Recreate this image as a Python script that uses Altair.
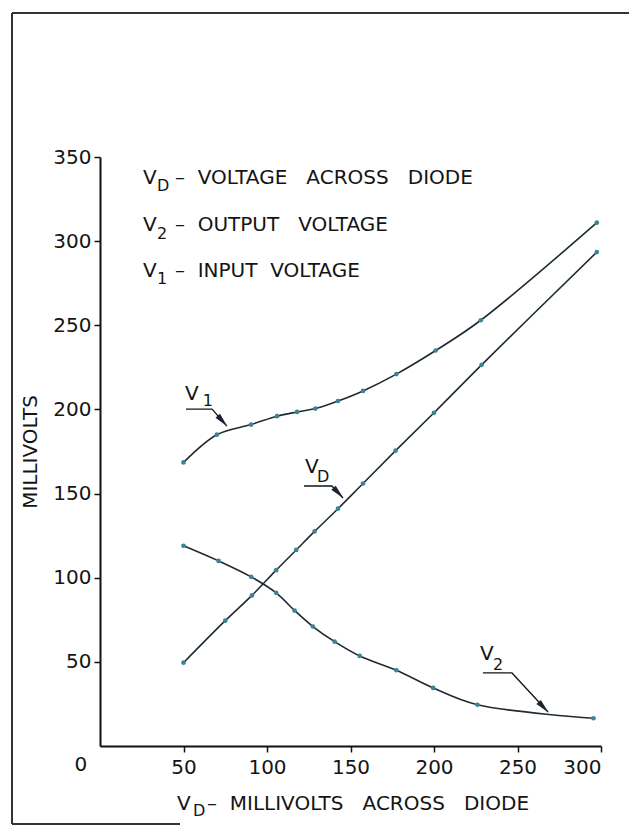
import altair as alt
import pandas as pd

# ---------------- data ----------------
vd_x = [50, 75, 91, 105.5, 117.5, 128.5, 142.5, 157.5, 177, 200, 228.5, 297.5]
vd_y = [49.5, 74.5, 89.5, 104.5, 116.5, 127.5, 141, 156, 175.5, 198, 226.5, 293.5]

v2_x = [50, 71, 90.5, 105.5, 116.5, 127.5, 140.5, 155.5, 177.5, 199.5, 226, 295.5]
v2_y = [119, 110, 100.5, 91, 80.5, 71, 62, 53.5, 45, 34.5, 24.5, 16.5]

v1_x = [50, 70, 90.5, 106, 118, 129, 142.5, 157.5, 177.5, 201, 228, 297.5]
v1_y = [168.5, 185, 191, 196, 198.5, 200.5, 205, 211, 221, 235, 253, 311]

x_ticks = [50, 100, 150, 200, 250, 300]
y_ticks = [50, 100, 150, 200, 250, 300, 350]

NB = "\u00a0"
legend_lines = [
    ("D", "\u2013" + NB * 2 + "VOLTAGE" + NB * 3 + "ACROSS" + NB * 3 + "DIODE"),
    ("2", "\u2013" + NB * 2 + "OUTPUT" + NB * 3 + "VOLTAGE"),
    ("1", "\u2013" + NB * 2 + "INPUT" + NB * 2 + "VOLTAGE"),
]
legend_base_y = [333.8, 306.3, 278.9]
legend_sub_y = [329.6, 301.0, 274.7]

x_title_sub = "D"
x_title_rest = "\u2013" + NB * 2 + "MILLIVOLTS" + NB * 3 + "ACROSS" + NB * 3 + "DIODE"

# curve labels: (subscript, V position, subscript position)
curve_labels = ["1", "D", "2"]
label_v_x = [50.9, 122.8, 227.5]
label_v_y = [205.6, 162.2, 51.1]
label_s_x = [61.5, 129.9, 235.3]
label_s_y = [202.0, 156.9, 45.2]
# leader lines: underline start, underline end, arrow tip
leader_x = [[51.5, 67.1, 76.0], [122.2, 138.9, 145.5], [229.3, 246.7, 268.3]]
leader_y = [[200.2, 200.2, 190.1], [154.5, 154.5, 147.4], [43.4, 43.4, 20.2]]
head_x = [73.4, 142.8, 265.6]
head_y = [193.0, 150.3, 23.0]
head_angle = [138, 137, 137]

# ---------------- tables ----------------
rows = []
for name, xs_, ys_ in [("VD", vd_x, vd_y), ("V2", v2_x, v2_y), ("V1", v1_x, v1_y)]:
    for a, b in zip(xs_, ys_):
        rows.append({"series": name, "x": a, "y": b})
df = pd.DataFrame(rows)

lead_rows = []
for i, (lx, ly) in enumerate(zip(leader_x, leader_y)):
    for j, (a, b) in enumerate(zip(lx, ly)):
        lead_rows.append({"lab": i, "o": j, "x": a, "y": b})
lead_df = pd.DataFrame(lead_rows)

head_df = pd.DataFrame({"x": head_x, "y": head_y, "a": head_angle})

text_rows = []
for i, (sub, rest) in enumerate(legend_lines):
    text_rows.append({"x": 25.7, "y": legend_base_y[i], "t": "V", "fs": 20})
    text_rows.append({"x": 34.1, "y": legend_sub_y[i], "t": sub, "fs": 16})
    text_rows.append({"x": 44.9, "y": legend_base_y[i], "t": rest, "fs": 20})
for i, sub in enumerate(curve_labels):
    text_rows.append({"x": label_v_x[i], "y": label_v_y[i], "t": "V", "fs": 20})
    text_rows.append({"x": label_s_x[i], "y": label_s_y[i], "t": sub, "fs": 16})
text_rows.append({"x": 46.1, "y": -38.0, "t": "V", "fs": 20})
text_rows.append({"x": 55.7, "y": -41.6, "t": x_title_sub, "fs": 16})
text_rows.append({"x": 64.1, "y": -38.0, "t": x_title_rest, "fs": 20})
text_df = pd.DataFrame(text_rows)

origin_df = pd.DataFrame({"x": [-11.4], "y": [-11.3], "t": ["0"]})

# ---------------- chart ----------------
W, H = 501, 589
LINE = "#1f2b31"
DOT = "#3c8494"
INK = "#141414"
FONT = "DejaVu Sans"

xs = alt.Scale(domain=[0, 300], nice=False, zero=True)
ys = alt.Scale(domain=[0, 350], nice=False, zero=True)

X = alt.X("x:Q", scale=xs, axis=alt.Axis(values=x_ticks, title=None, format="d"))
Y = alt.Y("y:Q", scale=ys, axis=alt.Axis(values=y_ticks, title="MILLIVOLTS", format="d"))

lines = alt.Chart(df).mark_line(interpolate="catmull-rom", color=LINE, strokeWidth=1.6).encode(
    x=X, y=Y, detail="series:N"
)
points = alt.Chart(df).mark_circle(size=22, color=DOT, opacity=1).encode(x="x:Q", y="y:Q")

leaders = alt.Chart(lead_df).mark_line(color=INK, strokeWidth=1.3).encode(
    x="x:Q", y="y:Q", detail="lab:N", order="o:Q"
)
heads = alt.Chart(head_df).mark_point(
    shape="M0,-1L0.42,1L-0.42,1Z", filled=True, size=210, color="#1b2330", opacity=1
).encode(x="x:Q", y="y:Q", angle=alt.Angle("a:Q", scale=None))

texts = alt.Chart(text_df).mark_text(
    align="left", baseline="alphabetic", font=FONT, color=INK
).encode(x="x:Q", y="y:Q", text="t:N", size=alt.Size("fs:Q", scale=None))

origin = alt.Chart(origin_df).mark_text(
    align="center", baseline="middle", font=FONT, fontSize=20, color=INK
).encode(x="x:Q", y="y:Q", text="t:N")

one = pd.DataFrame({"k": [0]})
frame_left = alt.Chart(one).mark_rule(color="#333", strokeWidth=2).encode(
    x=alt.value(-88), y=alt.value(-144), y2=alt.value(667)
)
frame_top = alt.Chart(one).mark_rule(color="#333", strokeWidth=2).encode(
    x=alt.value(-88), x2=alt.value(529), y=alt.value(-144)
)
frame_bottom = alt.Chart(one).mark_rule(color="#333", strokeWidth=2).encode(
    x=alt.value(-88), x2=alt.value(80), y=alt.value(667)
)

chart = (
    alt.layer(lines, points, leaders, heads, texts, origin, frame_left, frame_top, frame_bottom)
    .properties(
        width=W,
        height=H,
        padding={"left": 92, "top": 149, "right": 28, "bottom": 80},
        autosize=alt.AutoSizeParams(type="none"),
        background="white",
    )
    .configure_view(strokeOpacity=0)
    .configure_axis(
        grid=False,
        domainColor="#111",
        domainWidth=2,
        tickColor="#111",
        tickWidth=1.5,
        tickSize=6,
        labelFont=FONT,
        labelFontSize=20,
        labelColor=INK,
        labelPadding=3,
        titleFont=FONT,
        titleFontSize=20,
        titleFontWeight="normal",
        titleColor=INK,
    )
    .configure_axisY(titlePadding=12)
    .configure_axisX(labelPadding=5)
)

chart.save("out.html", embed_options={"renderer": "svg", "actions": False})
